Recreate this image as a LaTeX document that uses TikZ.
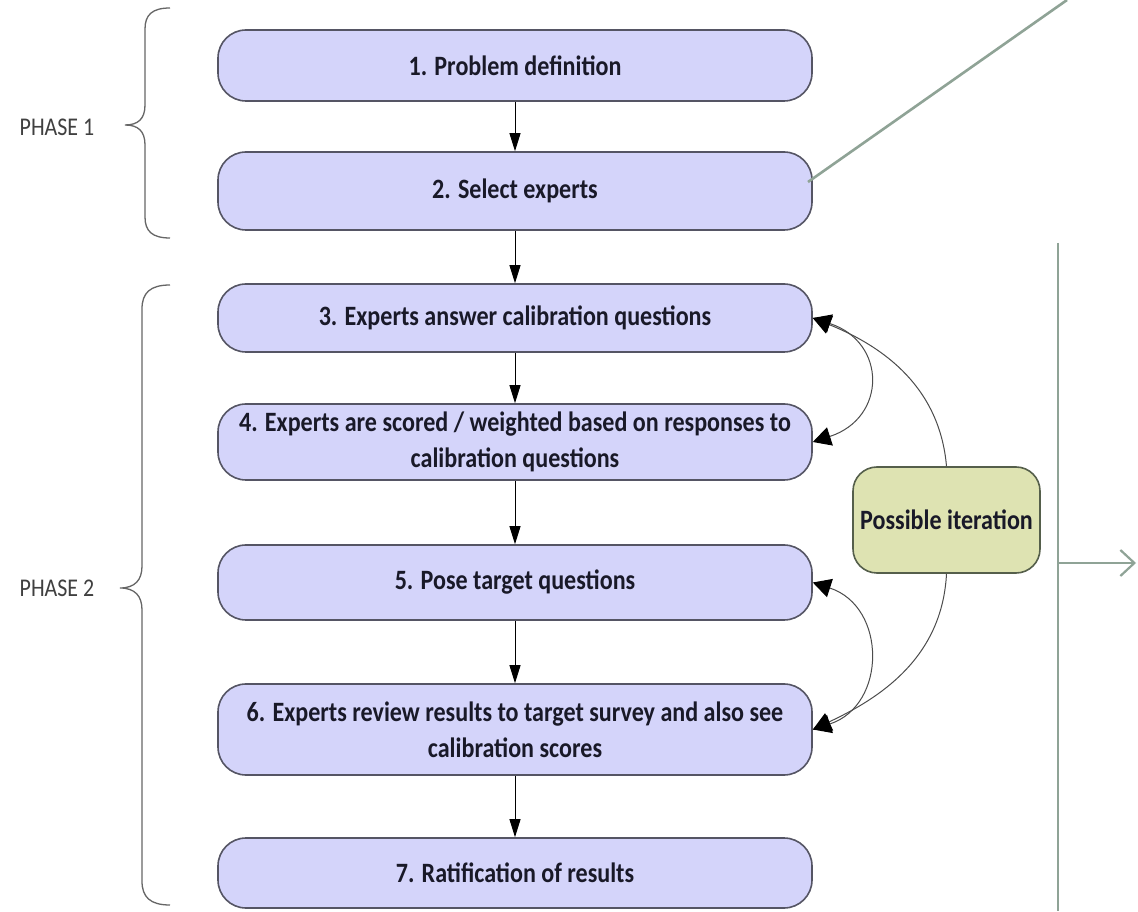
\documentclass[tikz,border=0pt]{standalone}
\usepackage{fontspec}
\setmainfont{Carlito}[FakeStretch=0.86]
\usetikzlibrary{arrows.meta}
\definecolor{boxfill}{RGB}{212,212,250}
\definecolor{boxedge}{RGB}{85,85,100}
\definecolor{iterfill}{RGB}{222,227,178}
\definecolor{iteredge}{RGB}{85,95,75}
\definecolor{sage}{RGB}{143,163,150}
\definecolor{phasegray}{RGB}{64,64,64}
\definecolor{textdark}{RGB}{25,25,40}
\tikzset{
  stepbox/.style={draw=boxedge, line width=1.6pt, fill=boxfill, rounded corners=28pt,
    minimum width=594pt, align=center, inner sep=0pt, text=textdark,
    font=\bfseries\fontsize{28}{36}\selectfont},
  iterbox/.style={draw=iteredge, line width=1.6pt, fill=iterfill, rounded corners=24pt,
    minimum width=187pt, minimum height=106pt, align=center, inner sep=0pt, text=textdark,
    font=\bfseries\fontsize{28}{36}\selectfont},
  phaselabel/.style={text=phasegray, font=\fontsize{25.5}{30}\selectfont, inner sep=0pt},
  flow/.style={line width=1pt, draw=black, -{Triangle[length=18pt,width=11pt]}},
  loopline/.style={line width=1pt, draw=black!70, arrows={-{Triangle[length=18pt,width=19pt,color=black]}}},
  dloop/.style={line width=1pt, draw=black!70, arrows={{Triangle[length=18pt,width=19pt,color=black]}-{Triangle[length=18pt,width=19pt,color=black]}}},
  bracepath/.style={draw=black!60, line width=1.3pt},
  sageline/.style={draw=sage, line width=2.6pt},
}
\begin{document}
\begin{tikzpicture}[x=1pt,y=1pt]
\useasboundingbox (0,0) rectangle (1138,911);
\fill[white] (0,0) rectangle (1138,911);

% boxes
\node[stepbox, minimum height=71pt] (b1) at (515,845.5) {1. Problem definition};
\node[stepbox, minimum height=78pt] (b2) at (515,720) {2. Select experts};
\node[stepbox, minimum height=68pt] (b3) at (515,593) {3. Experts answer calibration questions};
\node[stepbox, minimum height=76pt] (b4) at (515,469) {4. Experts are scored / weighted based on responses to\\calibration questions};
\node[stepbox, minimum height=75pt] (b5) at (515,328.5) {5. Pose target questions};
\node[stepbox, minimum height=91pt] (b6) at (515,181.5) {6. Experts review results to target survey and also see\\calibration scores};
\node[stepbox, minimum height=70pt] (b7) at (515,38) {7. Ratification of results};

\node[iterbox] (it) at (946.5,391) {Possible iteration};

% flow arrows
\draw[flow] (b1) -- (b2);
\draw[flow] (b2) -- (b3);
\draw[flow] (b3) -- (b4);
\draw[flow] (b4) -- (b5);
\draw[flow] (b5) -- (b6);
\draw[flow] (b6) -- (b7);

% iteration curves
\draw[loopline] (it.north) to[out=95, in=-22] (b3.east);
\draw[loopline] (it.south) to[out=-93, in=25] (b6.east);
\draw[dloop] (b3.east) .. controls +(-18:78) and +(18:78) .. (b4.east);
\draw[dloop] (b5.east) .. controls +(-18:78) and +(18:78) .. (b6.east);

% phase labels and braces
\node[phaselabel] (p1) at (57,784) {PHASE 1};
\node[phaselabel] (p2) at (57,323) {PHASE 2};
\draw[bracepath] (170,903) .. controls (152,903) and (145,896) .. (145,882)
  -- (145,806) .. controls (145,792) and (138,786) .. (125,786)
  .. controls (138,786) and (145,780) .. (145,766)
  -- (145,694) .. controls (145,680) and (152,673) .. (170,673);
\draw[bracepath] (170,626) .. controls (150,626) and (142,618) .. (142,602)
  -- (142,345) .. controls (142,331) and (135,323) .. (120,323)
  .. controls (135,323) and (142,315) .. (142,301)
  -- (142,30) .. controls (142,14) and (150,6) .. (170,6);

% sage lines
\coordinate (gs) at (808,729);
\coordinate (gt) at (1067,911);
\draw[sageline] (gs) -- (gt);
\coordinate (vt) at (1058,668);
\coordinate (vb) at (1058,0);
\coordinate (hs) at (1058,348);
\coordinate (he) at (1136,348);
\draw[sageline] (vt) -- (vb);
\draw[sageline, line width=2.2pt, -{Straight Barb[length=14pt,width=26pt]}] (hs) -- (he);
\end{tikzpicture}
\end{document}
